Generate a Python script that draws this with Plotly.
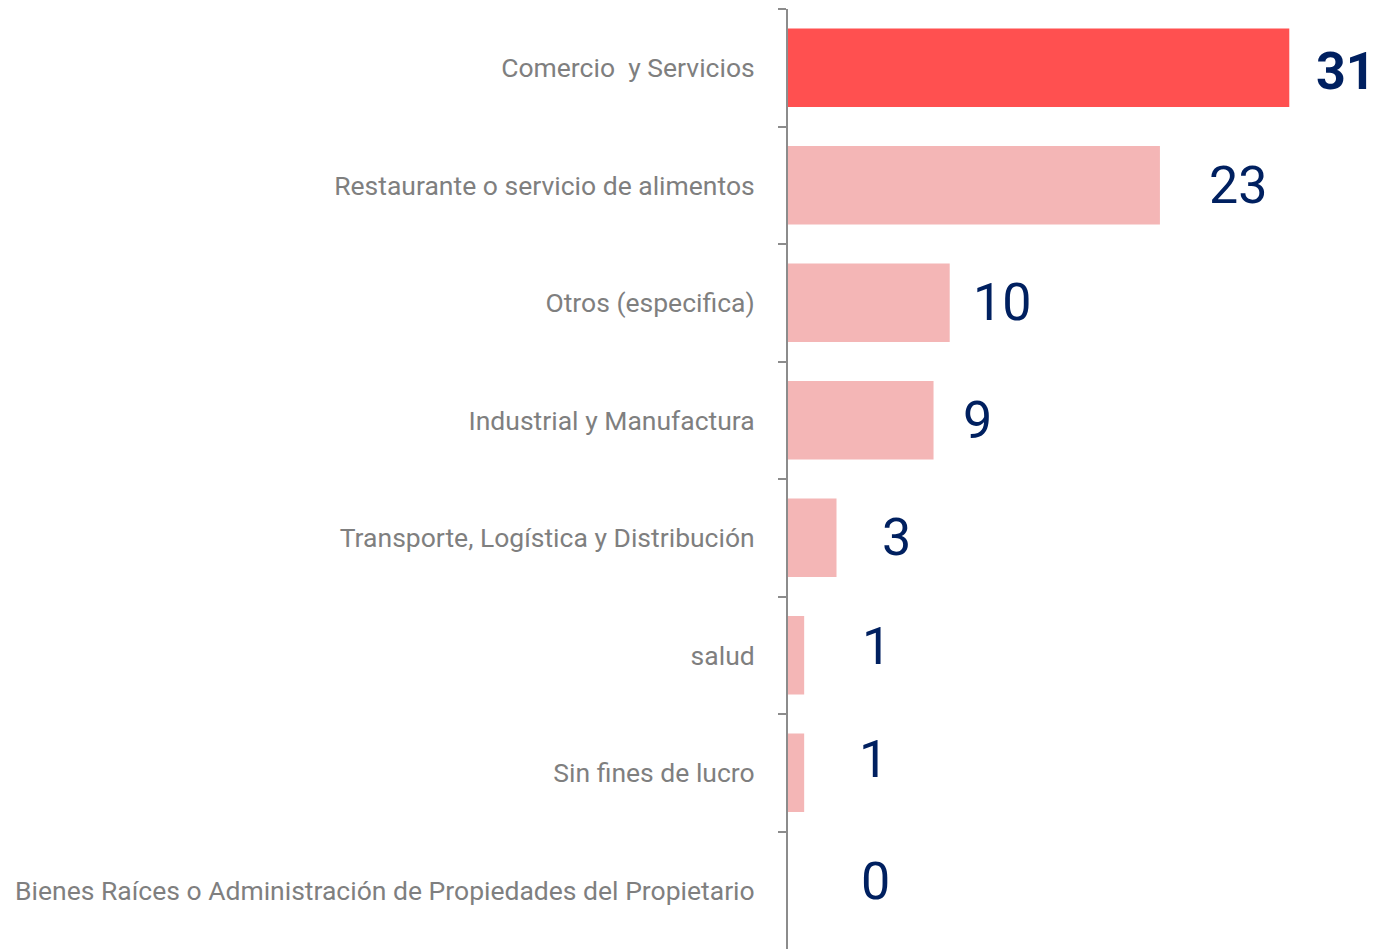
import plotly.graph_objects as go

# data
categories = [
    "Comercio  y Servicios",
    "Restaurante o servicio de alimentos",
    "Otros (especifica)",
    "Industrial y Manufactura",
    "Transporte, Logística y Distribución",
    "salud",
    "Sin fines de lucro",
    "Bienes Raíces o Administración de Propiedades del Propietario",
]
values = [31, 23, 10, 9, 3, 1, 1, 0]

# label placement tweaks (offset past bar end in data units, vertical shift in px)
label_dx = [3.5, 4.85, 3.24, 2.7, 3.7, 4.45, 4.3, 5.4]
label_dy = [-4, 0, 0, 0, 0, 9, 13, 9]

bar_colors = ['#FF5050'] + ['#F4B6B6'] * (len(values) - 1)

fig = go.Figure()
fig.add_trace(go.Bar(x=values,
                     y=categories,
                     orientation='h',
                     marker=dict(color=bar_colors, line=dict(width=0)),
                     hoverinfo='x+y'
                     ))

annotations = []
for k in range(len(values)):
    annotations.append(
        dict(
            text=('<b>%d</b>' % values[k]) if k == 0 else str(values[k]),
            x=values[k] + label_dx[k], y=categories[k],
            xref='x', yref='y',
            xanchor='center', yanchor='middle',
            yshift=label_dy[k],
            font=dict(family='Roboto', size=52, color='#002060'),
            showarrow=False)
    )

# page body has an 8px margin, so the figure is sized to end at the window edge
fig.update_layout(
    width=1367, height=941,
    margin=dict(l=780, r=0, t=1, b=0),
    showlegend=False,
    bargap=0.33,
    plot_bgcolor='white',
    paper_bgcolor='white',
    font=dict(family='Roboto'),
    annotations=annotations,
    xaxis=dict(range=[0, 36.3], showgrid=False, zeroline=False,
               showticklabels=False, showline=False),
    yaxis=dict(type='category', range=[7.5, -0.5],
               showgrid=False, zeroline=False,
               showline=True, linecolor='#8C8C8C', linewidth=2,
               ticks='outside', tickson='boundaries', ticklen=8,
               tickcolor='#8C8C8C', tickwidth=2,
               ticklabelstandoff=26,
               tickfont=dict(family='Roboto', size=26.5, color='#7F7F7F')),
)

fig.write_html("out.html")
